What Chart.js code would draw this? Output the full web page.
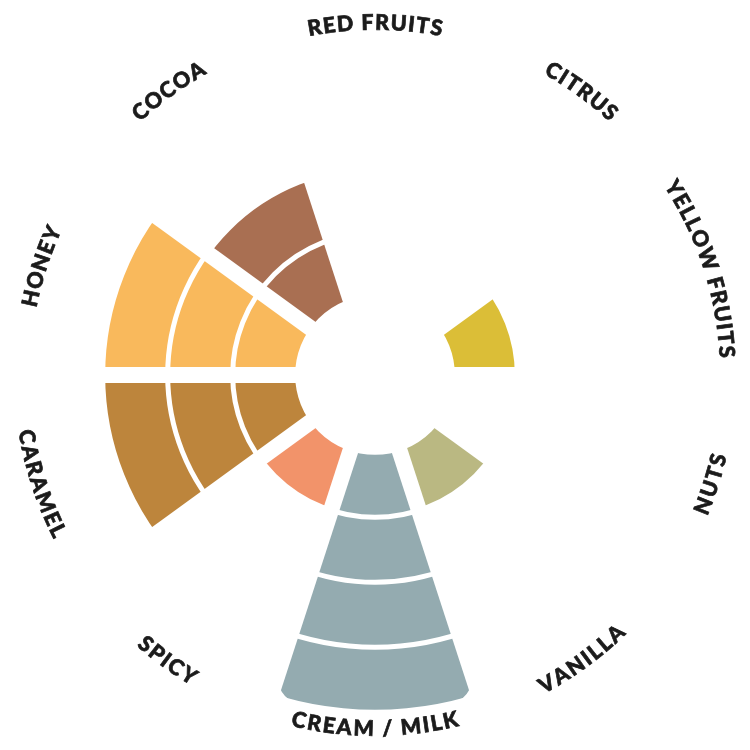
<!DOCTYPE html>
<html>
<head>
<meta charset="utf-8">
<title>Flavour wheel</title>
<script src="https://cdn.jsdelivr.net/npm/chart.js@4.4.1/dist/chart.umd.min.js"></script>
<style>
  html, body { margin: 0; padding: 0; background: #fff; }
  #wrap { width: 750px; height: 750px; }
</style>
</head>
<body>
<div id="wrap"><canvas id="wheel"></canvas></div>
<script>
// flavour notes, clockwise starting at the top
const notes = ['RED FRUITS', 'CITRUS', 'YELLOW FRUITS', 'NUTS', 'VANILLA',
               'CREAM / MILK', 'SPICY', 'CARAMEL', 'HONEY', 'COCOA'];
// how strong each note is (number of rings filled)
const intensity = [0, 0, 1, 0, 1, 4, 1, 3, 3, 2];
const noteColours = ['#c9574b', '#e8a33d', '#dbbe37', '#a58a63', '#bab882',
                     '#94abb0', '#f2936a', '#bd853c', '#f9b95c', '#a96f52'];
// ring boundaries on the radial scale
const rings = [0, 1, 2, 3, 4];

const LABEL_RADIUS = 353;
const TRACKING = 1.6;

// writes the note names along the rim, bent to follow the circle
const curvedLabels = {
    id: 'curvedLabels',
    afterDraw(chart) {
        const scale = chart.scales.r;
        const ctx = chart.ctx;
        const half = Math.PI / notes.length;
        const capHalf = 7.8;

        ctx.save();
        ctx.font = '900 21.5px Lato, "Open Sans", sans-serif';
        ctx.fillStyle = '#1b1b1b';
        ctx.strokeStyle = '#1b1b1b';
        ctx.lineWidth = 0.7;
        ctx.textAlign = 'center';
        ctx.textBaseline = 'alphabetic';

        notes.forEach((label, i) => {
            const mid = scale.getIndexAngle(i) + half; // clockwise from north
            const a = mid - Math.PI / 2;
            const norm = (mid + 2 * Math.PI) % (2 * Math.PI);
            const lower = norm > Math.PI / 2 && norm < 3 * Math.PI / 2;
            const dir = lower ? -1 : 1;

            const chars = [...label];
            const widths = chars.map(c => ctx.measureText(c).width + TRACKING);
            const total = widths.reduce((s, w) => s + w, 0) - TRACKING;

            let pos = -total / 2;
            chars.forEach((c, k) => {
                const t = a + dir * (pos + (widths[k] - TRACKING) / 2) / LABEL_RADIUS;
                ctx.save();
                ctx.translate(scale.xCenter + Math.cos(t) * LABEL_RADIUS,
                              scale.yCenter + Math.sin(t) * LABEL_RADIUS);
                ctx.rotate(t + dir * Math.PI / 2);
                ctx.fillText(c, 0, capHalf);
                ctx.strokeText(c, 0, capHalf);
                ctx.restore();
                pos += widths[k];
            });
        });
        ctx.restore();
    }
};

const topLevel = Math.max(...intensity);

function init() {
    const ctx = document.getElementById('wheel').getContext('2d');
    new Chart(ctx, {
        type: 'polarArea',
        data: {
            labels: notes,
            datasets: [
                {
                    // empty core in the middle of the wheel
                    data: notes.map(() => 0),
                    backgroundColor: '#ffffff',
                    borderWidth: 0,
                },
                {
                    data: intensity,
                    backgroundColor: (c) => intensity[c.dataIndex] > 0 ? noteColours[c.dataIndex] : 'rgba(0,0,0,0)',
                    borderWidth: 0,
                    borderRadius: (c) => c.raw === topLevel
                        ? { outerStart: 26, outerEnd: 26, innerStart: 0, innerEnd: 0 }
                        : 0,
                },
            ],
        },
        plugins: [curvedLabels],
        options: {
            responsive: true,
            maintainAspectRatio: false,
            animation: false,
            layout: { padding: 0 },
            plugins: {
                legend: { display: false },
                tooltip: { enabled: false },
            },
            scales: {
                r: {
                    min: -1.19,
                    max: 4.58,
                    startAngle: -180 / notes.length,
                    afterBuildTicks: (scale) => {
                        scale.ticks = rings.map(v => ({ value: v }));
                    },
                    ticks: { display: false },
                    grid: { circular: true, color: '#ffffff', lineWidth: 5, z: 1 },
                    angleLines: { display: true, color: '#ffffff', lineWidth: 16 },
                    pointLabels: { display: false },
                },
            },
        },
    });
}

window.onload = init;
</script>
</body>
</html>
